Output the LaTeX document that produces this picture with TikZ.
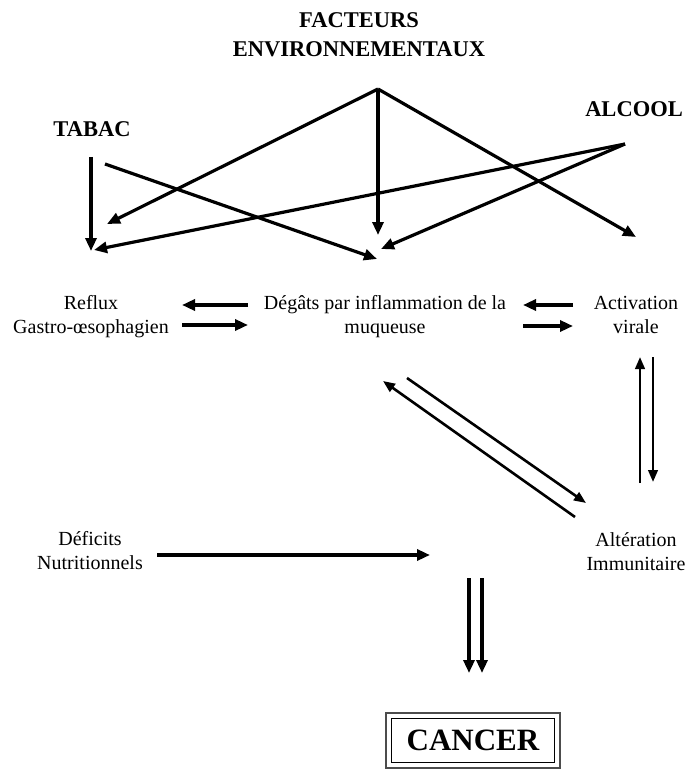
\documentclass[tikz,border=0pt]{standalone}
\usepackage{fontspec}
\setmainfont{Liberation Serif}
\usetikzlibrary{arrows.meta,calc}
\newcommand\twoline[2]{\begin{tabular}[t]{@{}c@{}}#1\\#2\end{tabular}}
\begin{document}
\begin{tikzpicture}[x=1pt,y=-1pt,
  lbl/.style={anchor=base,inner sep=0pt,font=\fontsize{20}{24}\selectfont},
  hd/.style={anchor=base,inner sep=0pt,font=\fontsize{22.5}{29}\selectfont\bfseries},
  arr/.style={line width=3.2pt,-{Triangle[length=13pt,width=11pt]}},
  arrb/.style={line width=2.6pt,-{Triangle[length=12pt,width=9.5pt]}},
]
\fill[white] (0,0) rectangle (690,770);
\useasboundingbox (0,0) rectangle (690,770);

% labels
\node[hd] (fe) at (359,28) {\twoline{FACTEURS}{ENVIRONNEMENTAUX}};
\node[hd] (tabac) at (92,137) {TABAC};
\node[hd] (alcool) at (634,117) {ALCOOL};
\node[lbl] (reflux) at (91,309) {\twoline{Reflux}{Gastro-œsophagien}};
\node[lbl] (degats) at (385,309) {\twoline{Dégâts par inflammation de la}{muqueuse}};
\node[lbl] (activ) at (636,309) {\twoline{Activation}{virale}};
\node[lbl] (deficits) at (90,545) {\twoline{Déficits}{Nutritionnels}};
\node[lbl] (alter) at (636,546) {\twoline{Altération}{Immunitaire}};
\node[draw,line width=1.3pt,minimum width=163pt,minimum height=44pt,inner sep=0pt,
      font=\fontsize{31}{36}\selectfont\bfseries] (cancer) at (473,740.5) {CANCER};
\draw[line width=2.2pt,black!70] ($(cancer.south west)+(-4.5,4.5)$) rectangle ($(cancer.north east)+(4.5,-4.5)$);

% arrow end points
\coordinate (apex) at (378,89);
\coordinate (feR) at (107,224);
\coordinate (feD) at (378,235);
\coordinate (feA) at (636,237);
\coordinate (tabS1) at (91,157);
\coordinate (tabE1) at (91,251);
\coordinate (tabS2) at (105,164);
\coordinate (tabE2) at (377,259);
\coordinate (alcS) at (625,144);
\coordinate (alcE1) at (94,250);
\coordinate (alcE2) at (381,249);

\coordinate (rdL) at (182,305);
\coordinate (rdR) at (248,305);
\coordinate (rdL2) at (182,325);
\coordinate (rdR2) at (248,325);
\coordinate (daL) at (523,305);
\coordinate (daR) at (573,305);
\coordinate (daL2) at (523,326);
\coordinate (daR2) at (573,326);

\coordinate (vUpB) at (640,483);
\coordinate (vUpT) at (640,357);
\coordinate (vDnT) at (653,357);
\coordinate (vDnB) at (653,482);

\coordinate (dgNWtail) at (575,517);
\coordinate (dgNWtip) at (383,381);
\coordinate (dgSEtail) at (407,378);
\coordinate (dgSEtip) at (586,503);

\coordinate (defS) at (157,555);
\coordinate (defE) at (430,555);

\coordinate (c1S) at (469,578);
\coordinate (c1E) at (469,673);
\coordinate (c2S) at (482,578);
\coordinate (c2E) at (482,673);

% top arrows
\draw[arr] (apex) -- (feR);
\draw[arr] (apex) -- (feD);
\draw[arr] (apex) -- (feA);
\draw[arr] (tabS1) -- (tabE1);
\draw[arr] (tabS2) -- (tabE2);
\draw[arr] (alcS) -- (alcE1);
\draw[arr] (alcS) -- (alcE2);

% middle row
\draw[arr] (rdR) -- (rdL);
\draw[arr] (rdL2) -- (rdR2);
\draw[arr] (daR) -- (daL);
\draw[arr] (daL2) -- (daR2);

% pairs
\draw[arrb] (vUpB) -- (vUpT);
\draw[arrb] (vDnT) -- (vDnB);
\draw[arrb] (dgNWtail) -- (dgNWtip);
\draw[arrb] (dgSEtail) -- (dgSEtip);

% bottom
\draw[arr,line width=3.6pt] (defS) -- (defE);
\draw[arr] (c1S) -- (c1E);
\draw[arr] (c2S) -- (c2E);
\end{tikzpicture}
\end{document}
